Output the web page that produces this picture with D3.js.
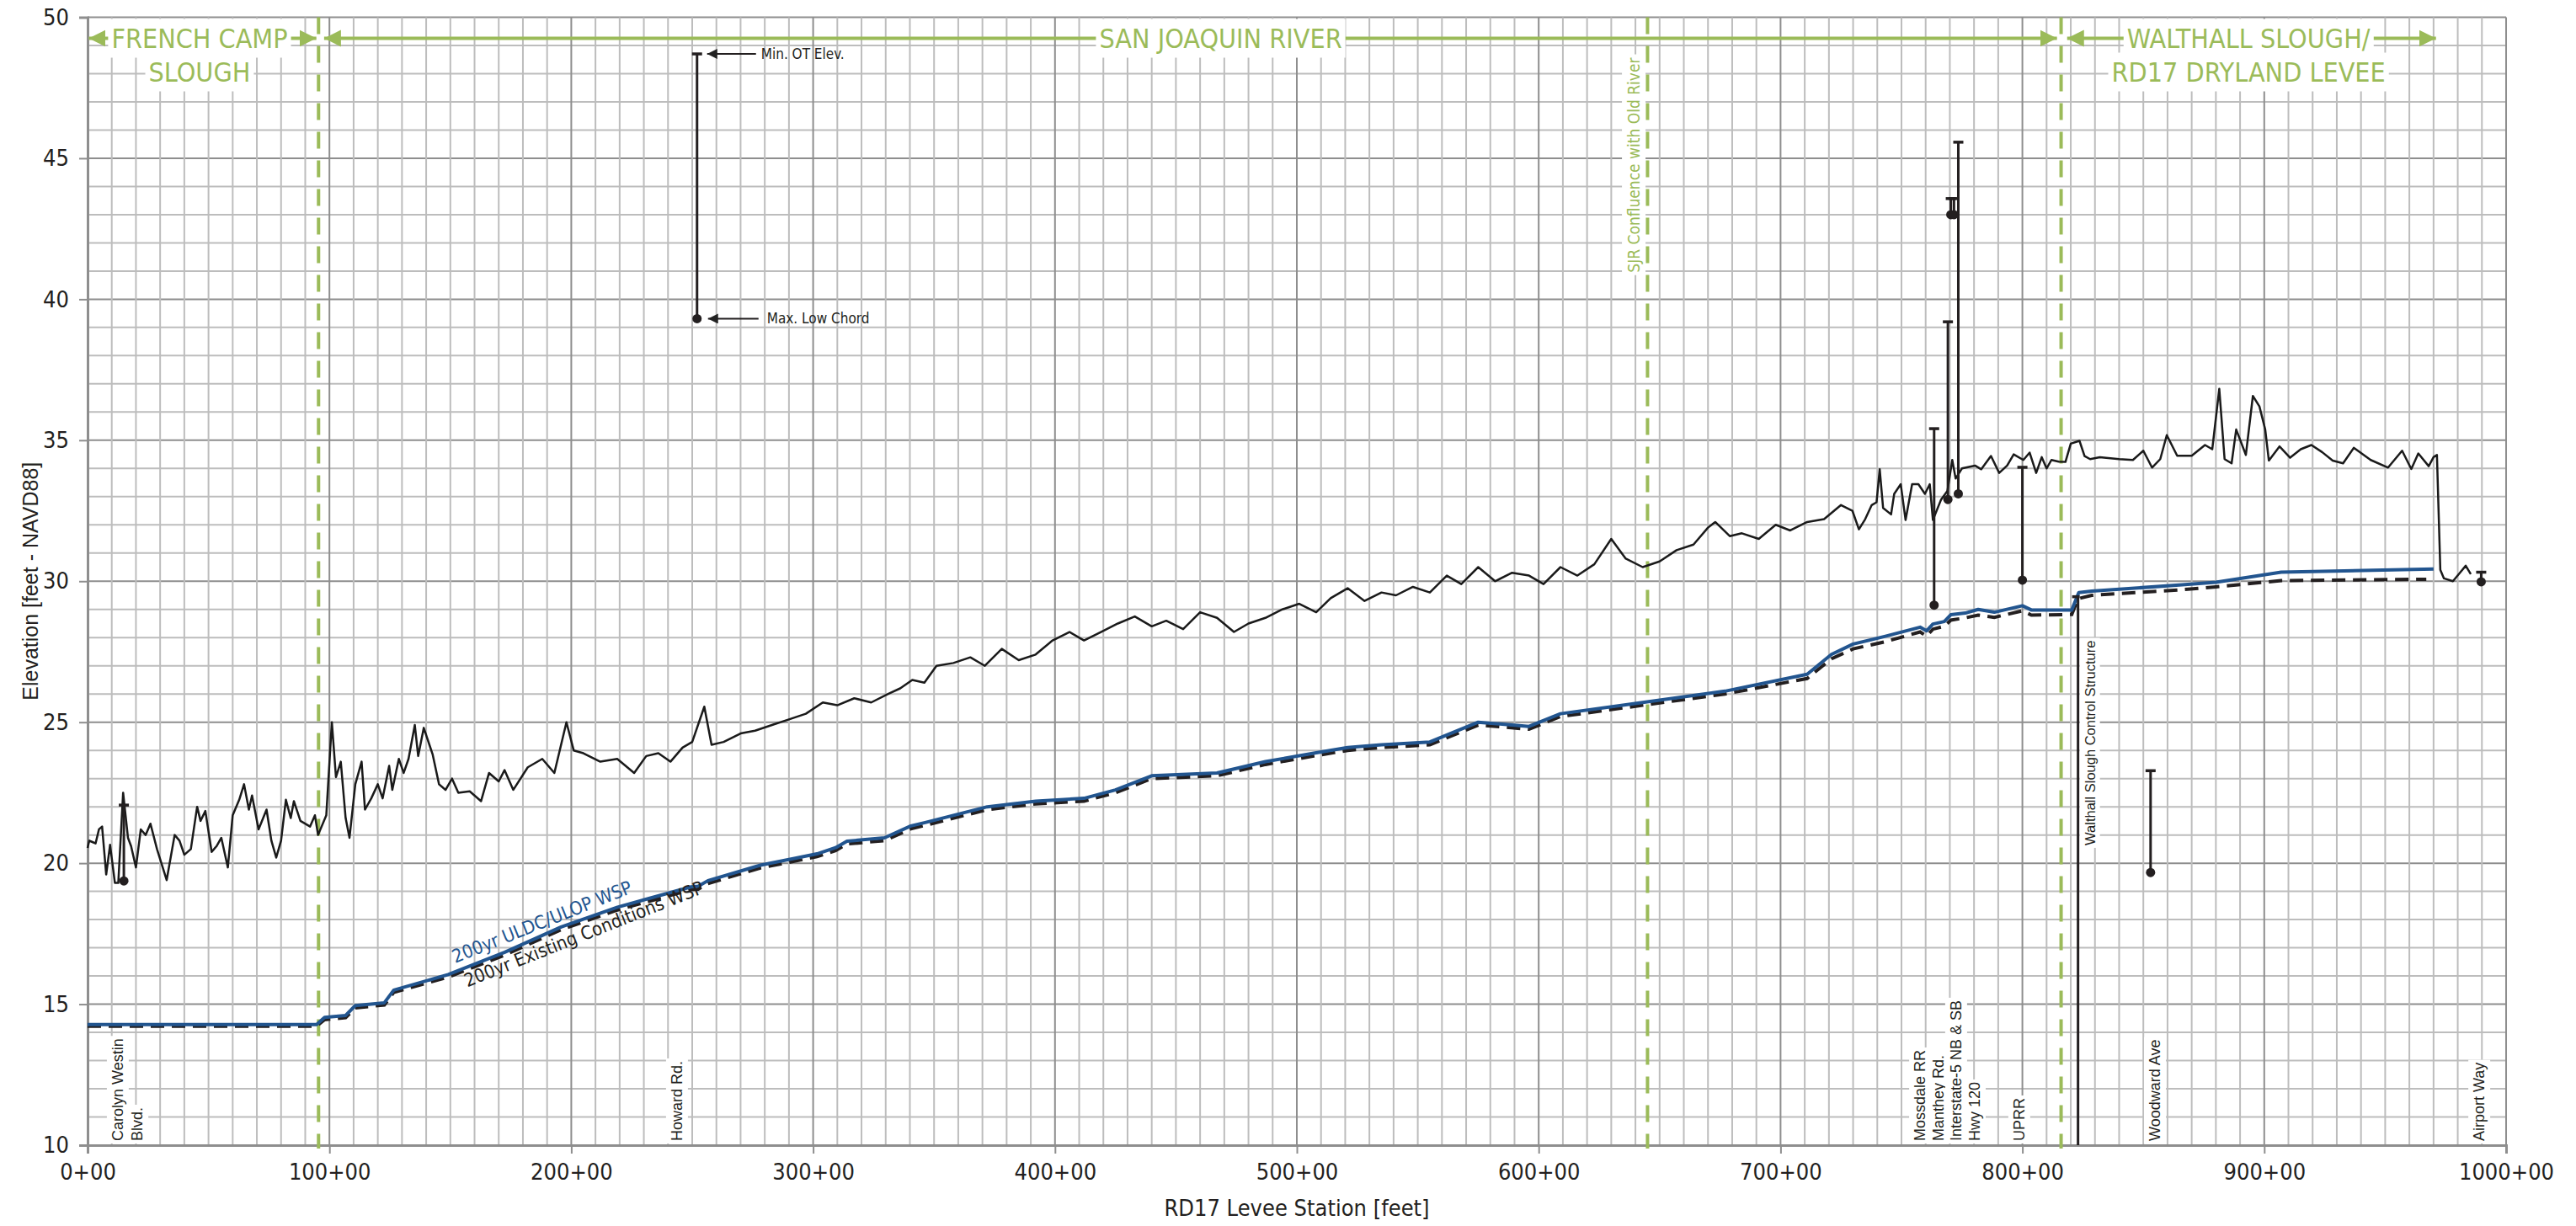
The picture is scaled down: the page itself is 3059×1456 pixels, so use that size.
<!DOCTYPE html>
<html>
<head>
<meta charset="utf-8">
<script src="https://cdn.jsdelivr.net/npm/d3@7/dist/d3.min.js"></script>
<style>
  body { margin: 0; background: #fff; }
  svg { display: block; }
</style>
</head>
<body>
<div id="chart"></div>
<script>
// ---- data (stations in 100 ft, elevations in ft NAVD88) ----
const yTicks = [10, 15, 20, 25, 30, 35, 40, 45, 50];
const xTicks = [0, 100, 200, 300, 400, 500, 600, 700, 800, 900, 1000];

// levee crest profile
const profile = [
  [0,20.54],[0.7,20.8],[2,20.75],[3.3,20.7],[4.7,21.2],[6,21.3],[7.7,19.6],[9.3,20.65],[11.3,19.3],[12.7,19.3],
  [14.7,22.5],[16.7,20.9],[18,20.6],[20,19.85],[22,21.2],[24,21.0],[26,21.4],[28.7,20.5],[32.7,19.4],[36,21.0],
  [38,20.8],[40,20.3],[42.7,20.5],[45.3,22.0],[46.7,21.5],[48.7,21.85],[51.3,20.4],[53.3,20.6],[55.3,20.9],[58,19.85],
  [60,21.7],[62.7,22.25],[64.7,22.8],[66.7,21.9],[68,22.4],[70.7,21.2],[74,21.9],[76,20.8],[78,20.2],[80,20.8],
  [82,22.25],[84,21.6],[85.3,22.2],[88,21.5],[92,21.3],[94,21.7],[95.3,21.0],[98.7,21.7],[101,25.0],[102.7,23.05],
  [104.7,23.6],[106.7,21.6],[108.3,20.9],[110.7,22.8],[113.3,23.6],[114.7,21.9],[117.3,22.3],[120,22.8],[122,22.3],[124.7,23.45],
  [126,22.6],[128.7,23.7],[130.7,23.2],[132.7,23.7],[135.3,24.9],[136.7,23.8],[139,24.8],[142.7,23.85],[145.3,22.8],[148,22.6],
  [150.7,23.0],[153.3,22.5],[158,22.55],[162.7,22.2],[166,23.2],[170,22.9],[172.4,23.3],
  [176,22.6],[182,23.4],[188,23.7],[193,23.2],[198,25.0],[201,24.0],[205,23.9],[212,23.6],[219,23.7],[226,23.2],
  [231,23.8],[236,23.9],[241,23.6],[246,24.1],[250,24.3],[255,25.55],[258,24.2],[263,24.3],[270,24.6],[276,24.7],
  [283,24.9],[290,25.1],[297,25.3],[304,25.7],[310,25.6],[317,25.85],[324,25.7],[331,26.0],[336,26.2],[341,26.5],
  [346,26.4],[351,27.0],[358,27.1],[365,27.3],[371,27.0],[378,27.6],[385,27.2],[392,27.4],[399,27.9],[406,28.2],
  [412,27.9],[419,28.2],[426,28.5],[433,28.75],[440,28.4],[446,28.6],[453,28.3],[460,28.9],[467,28.7],[474,28.2],
  [480,28.5],[487,28.7],[494,29.0],[501,29.2],[508,28.9],[514,29.4],[521,29.75],[528,29.3],[535,29.6],[541,29.5],
  [548,29.8],[555,29.6],[562,30.2],[568,29.9],[575,30.5],[582,30.0],[589,30.3],[596,30.2],[602,29.9],[609,30.5],
  [616,30.2],[623,30.6],[630,31.5],[636,30.8],[643,30.5],[650,30.7],[657,31.1],[664,31.3],[670,31.9],[673,32.1],
  [679,31.6],[684,31.7],[691,31.5],[698,32.0],[704,31.8],[711,32.1],[718,32.2],[725,32.7],[729.7,32.5],
  [732.4,31.84],[735,32.2],[737.7,32.7],[739.7,32.8],[741,33.97],[742.4,32.6],[745.7,32.37],[747,33.1],[749.7,33.44],[751.7,32.17],
  [754.4,33.44],[757,33.44],[759.7,33.1],[761.7,33.44],[763,32.17],[766.4,32.9],[769,33.2],[771,34.3],[772.4,33.64],[775,34.0],
  [780.4,34.1],[783,33.97],[787,34.44],[790.4,33.84],[793.7,34.1],[796.4,34.5],[800.4,34.3],[803,34.56],[805.7,33.84],[808,34.4],
  [810,34.0],[812,34.3],[815,34.24],[817.8,34.23],[820,34.88],[823.6,34.98],[825.7,34.44],[828,34.33],[832,34.4],[840,34.33],
  [845.7,34.3],[850,34.63],[853.6,34.03],[857,34.33],[859.7,35.18],[864,34.45],[870,34.45],[875.5,34.83],[878.5,34.68],[881.4,36.82],
  [883.6,34.33],[886.5,34.18],[888.4,35.38],[892.4,34.48],[895.3,36.57],[898,36.2],[900.4,35.38],[901.9,34.28],[906.3,34.78],[910.7,34.38],
  [915.1,34.68],[919.5,34.83],[923.9,34.58],[928.3,34.28],[932.6,34.18],[937,34.73],[944,34.3],[951.2,34.03],[957,34.63],[960.8,33.98],
  [963.7,34.53],[968,34.08],[970,34.4],[971.4,34.48],[972.8,30.4],[974.3,30.1],[978,30.0],[980.9,30.3],[983.3,30.55],[985.4,30.25]
];

// 200yr ULDC/ULOP water surface profile
const wspProject = [
  [0,14.28],[94.7,14.28],[98,14.53],[106.7,14.6],[110.7,14.95],[122.7,15.05],[126.6,15.5],[149.1,16.05],[172.5,16.84],[195.8,17.74],
  [219.1,18.44],[249.5,19.16],[252.5,19.18],[256.5,19.38],[278.2,19.93],[301.6,20.33],[309.3,20.55],[314,20.78],[329.5,20.9],[340.4,21.32],
  [346.3,21.44],[372,22.0],[392,22.2],[412,22.3],[425,22.6],[440,23.1],[467,23.2],[487,23.6],[507,23.9],[521,24.1],
  [535,24.2],[555,24.3],[575,25.0],[596,24.85],[609,25.3],[643,25.7],[677,26.1],[711,26.7],[721,27.4],[730,27.77],
  [743,28.04],[757.7,28.37],[760.4,28.24],[763,28.48],[767.7,28.57],[770.4,28.81],[776.4,28.87],[781.7,29.0],[788.4,28.9],[800,29.13],
  [803.7,28.98],[820.4,28.98],[823.3,29.6],[828.7,29.65],[866,29.87],[880,29.96],[907,30.32],[970,30.43]
];

// 200yr existing conditions water surface profile
const wspExisting = [
  [0,14.22],[94.7,14.22],[98,14.45],[106.7,14.52],[110.7,14.87],[122.7,14.97],[126.6,15.42],[149.1,15.96],[172.5,16.74],[195.8,17.64],
  [219.1,18.34],[249.5,19.06],[252.5,19.08],[256.5,19.28],[278.2,19.83],[301.6,20.23],[309.3,20.45],[314,20.68],[329.5,20.8],[340.4,21.22],
  [346.3,21.34],[372,21.9],[392,22.1],[412,22.2],[425,22.5],[440,23.0],[467,23.1],[487,23.5],[507,23.8],[521,24.0],
  [535,24.1],[555,24.2],[575,24.9],[596,24.75],[609,25.2],[643,25.6],[677,26.0],[711,26.55],[721,27.25],[730,27.6],
  [743,27.85],[757.7,28.2],[760.4,28.05],[763,28.3],[767.7,28.4],[770.4,28.62],[776.4,28.7],[781.7,28.8],[788.4,28.72],[800,28.95],
  [803.7,28.8],[820.4,28.82],[823,29.38],[828.7,29.5],[866,29.7],[880,29.8],[907,30.02],[967,30.07]
];

// bridges: station, min. OT elevation (cap), max. low chord (dot)
const bridgeStation = [15, 252, 763.5, 769.2, 770.4, 771.7, 773.5, 800, 853, 989.7];
const bridgeMinOT   = [22.06, 48.7, 35.41, 39.2, 43.57, 43.57, 45.57, 34.04, 23.28, 30.32];
const bridgeLowChord = [19.37, 39.31, 29.15, 32.9, 43.0, 43.0, 33.1, 30.04, 19.67, 29.98];

// control structure
const structureStation = 823;
const structureTop = 29.45;

// crossing labels along the bottom
const crossingNames = ["Carolyn Westin", "Blvd.", "Howard Rd.", "Mossdale RR", "Manthey Rd.", "Interstate-5 NB & SB", "Hwy 120", "UPRR", "Woodward Ave", "Airport Way"];
const crossingStation = [12.5, 20.6, 243.7, 757.7, 765.3, 772.6, 780.3, 798.7, 854.8, 988.9];

// reach boundaries and reach names
const boundaryStation = [95.5, 645, 816];
const reachNames = [["FRENCH CAMP", "SLOUGH"], ["SAN JOAQUIN RIVER"], ["WALTHALL SLOUGH/", "RD17 DRYLAND LEVEE"]];
const reachCenter = [46.3, 468.5, 893.5];
const reachArrowFrom = [0.5, 97.8, 818.5];
const reachArrowTo = [94.6, 814.3, 971];

// ---- chart ----
const W = 3059, H = 1456;
const margin = {top: 20.5, right: 83, bottom: 96, left: 104};
const width = W - margin.left - margin.right;
const height = H - margin.top - margin.bottom;

const green = "#9bbb59";
const blue = "#22558f";
const narrow = "'Liberation Sans Narrow', 'DejaVu Sans Condensed', 'Roboto Condensed', sans-serif";

const svg = d3.select("#chart").append("svg")
  .attr("width", W).attr("height", H);

const defs = svg.append("defs");
function arrowMarker(id, color, w, h) {
  defs.append("marker")
    .attr("id", id)
    .attr("markerUnits", "userSpaceOnUse")
    .attr("viewBox", "0 0 10 10")
    .attr("refX", 10).attr("refY", 5)
    .attr("markerWidth", w).attr("markerHeight", h)
    .attr("orient", "auto-start-reverse")
    .append("path").attr("d", "M0,0L10,5L0,10Z").attr("fill", color);
}
arrowMarker("garrow", green, 20, 26);
arrowMarker("karrow", "#222", 14, 12);

const g = svg.append("g")
  .attr("transform", "translate(" + margin.left + "," + margin.top + ")");

const x = d3.scaleLinear().domain([0, 1000]).range([0, width]);
const y = d3.scaleLinear().domain([10, 50]).range([height, 0]);

// grid
const grid = g.append("g");
grid.selectAll("line.h").data(d3.range(10, 51, 1)).join("line")
  .attr("x1", 0).attr("x2", width)
  .attr("y1", d => y(d)).attr("y2", d => y(d))
  .attr("stroke", d => d % 5 === 0 ? "#8e8e8e" : "#bdbdbd")
  .attr("stroke-width", 2);
grid.selectAll("line.v").data(d3.range(0, 1001, 10)).join("line")
  .attr("y1", 0).attr("y2", height)
  .attr("x1", d => x(d)).attr("x2", d => x(d))
  .attr("stroke", d => d % 100 === 0 ? "#8e8e8e" : "#bdbdbd")
  .attr("stroke-width", 2);

// axes
const xAxis = g.append("g")
  .attr("transform", "translate(0," + height + ")")
  .call(d3.axisBottom(x).tickValues(xTicks).tickFormat(d => d + "+00").tickSize(10).tickPadding(12));
const yAxis = g.append("g")
  .call(d3.axisLeft(y).tickValues(yTicks).tickSize(10).tickPadding(12));
[xAxis, yAxis].forEach(a => {
  a.select(".domain").attr("stroke", "#8e8e8e").attr("stroke-width", 3);
  a.selectAll(".tick line").attr("stroke", "#8e8e8e").attr("stroke-width", 2);
  a.selectAll(".tick text").attr("font-family", narrow).attr("font-size", 27).attr("fill", "#231f20");
});

svg.append("text")
  .attr("x", margin.left + width / 2).attr("y", 1444)
  .attr("text-anchor", "middle")
  .attr("font-family", narrow).attr("font-size", 27).attr("fill", "#231f20")
  .text("RD17 Levee Station [feet]");
svg.append("text")
  .attr("transform", "translate(36," + (margin.top + height / 2) + ") rotate(-90)")
  .attr("text-anchor", "middle").attr("dominant-baseline", "central")
  .attr("font-family", "'Liberation Sans', sans-serif").attr("font-size", 25).attr("fill", "#231f20")
  .text("Elevation [feet - NAVD88]");

// helper: white box behind a text element
function backBox(textSel, pad) {
  const bb = textSel.node().getBBox();
  d3.select(textSel.node().parentNode).insert("rect", function() { return textSel.node(); })
    .attr("x", bb.x - pad).attr("y", bb.y - pad)
    .attr("width", bb.width + 2 * pad).attr("height", bb.height + 2 * pad)
    .attr("fill", "#fff");
}

// reach boundaries
g.selectAll("line.boundary").data(boundaryStation).join("line")
  .attr("x1", d => x(d)).attr("x2", d => x(d))
  .attr("y1", 0).attr("y2", height + 4)
  .attr("stroke", green).attr("stroke-width", 4)
  .attr("stroke-dasharray", "20,14");

// reach arrows and names
const arrowY = 25;
reachNames.forEach((lines, i) => {
  g.append("line")
    .attr("x1", x(reachArrowFrom[i])).attr("x2", x(reachArrowTo[i]))
    .attr("y1", arrowY).attr("y2", arrowY)
    .attr("stroke", green).attr("stroke-width", 4)
    .attr("marker-start", "url(#garrow)").attr("marker-end", "url(#garrow)");
  const grp = g.append("g");
  lines.forEach((s, j) => {
    const t = grp.append("text")
      .attr("x", x(reachCenter[i])).attr("y", arrowY + j * 40)
      .attr("text-anchor", "middle").attr("dominant-baseline", "central")
      .attr("font-family", narrow).attr("font-size", 32).attr("fill", green)
      .text(s);
    backBox(t, 4);
  });
});

// confluence marker label
{
  const grp = g.append("g")
    .attr("transform", "translate(" + x(639.3) + "," + 48 + ") rotate(-90)");
  const t = grp.append("text")
    .attr("text-anchor", "end").attr("dominant-baseline", "central")
    .attr("font-family", narrow).attr("font-size", 19).attr("fill", green)
    .text("SJR Confluence with Old River");
  backBox(t, 3);
}

// crossing labels
crossingNames.forEach((s, i) => {
  const grp = g.append("g")
    .attr("transform", "translate(" + x(crossingStation[i]) + "," + (height - 5) + ") rotate(-90)");
  const t = grp.append("text")
    .attr("dominant-baseline", "central")
    .attr("font-family", "'Liberation Sans', Arial, sans-serif").attr("font-size", 18).attr("fill", "#231f20")
    .text(s);
  backBox(t, 3);
});
{
  const grp = g.append("g")
    .attr("transform", "translate(" + (x(structureStation) + 14) + "," + (y(27.9)) + ") rotate(-90)");
  const t = grp.append("text")
    .attr("text-anchor", "end").attr("dominant-baseline", "central")
    .attr("font-family", "'Liberation Sans', Arial, sans-serif").attr("font-size", 16.5).attr("fill", "#231f20")
    .text("Walthall Slough Control Structure");
  backBox(t, 3);
}

// water surface profiles
const line = d3.line().x(d => x(d[0])).y(d => y(d[1]));
g.append("path").datum(wspExisting)
  .attr("d", line).attr("fill", "none")
  .attr("stroke", "#231f20").attr("stroke-width", 4).attr("stroke-dasharray", "16,9");
g.append("path").datum(wspProject)
  .attr("d", line).attr("fill", "none")
  .attr("stroke", blue).attr("stroke-width", 4).attr("stroke-linejoin", "round");

// levee crest
g.append("path").datum(profile)
  .attr("d", line).attr("fill", "none")
  .attr("stroke", "#1a1a1a").attr("stroke-width", 2.5).attr("stroke-linejoin", "round");

// WSP labels
const slope = -21.7;
g.append("text")
  .attr("transform", "translate(" + x(152) + "," + (y(16.45)) + ") rotate(" + slope + ")")
  .attr("font-family", narrow).attr("font-size", 22).attr("fill", blue)
  .text("200yr ULDC/ULOP WSP");
g.append("text")
  .attr("transform", "translate(" + x(157) + "," + (y(15.6)) + ") rotate(" + slope + ")")
  .attr("font-family", narrow).attr("font-size", 22).attr("fill", "#231f20")
  .text("200yr Existing Conditions WSP");

// bridges
const br = g.append("g");
bridgeStation.forEach((s, i) => {
  br.append("line")
    .attr("x1", x(s)).attr("x2", x(s))
    .attr("y1", y(bridgeMinOT[i])).attr("y2", y(bridgeLowChord[i]))
    .attr("stroke", "#231f20").attr("stroke-width", 3);
  br.append("line")
    .attr("x1", x(s) - 6).attr("x2", x(s) + 6)
    .attr("y1", y(bridgeMinOT[i])).attr("y2", y(bridgeMinOT[i]))
    .attr("stroke", "#231f20").attr("stroke-width", 3.5);
  br.append("circle")
    .attr("cx", x(s)).attr("cy", y(bridgeLowChord[i])).attr("r", 5.5)
    .attr("fill", "#231f20");
});
br.append("line")
  .attr("x1", x(structureStation)).attr("x2", x(structureStation))
  .attr("y1", y(structureTop)).attr("y2", height)
  .attr("stroke", "#231f20").attr("stroke-width", 3);
br.append("line")
  .attr("x1", x(structureStation) - 7).attr("x2", x(structureStation) + 2)
  .attr("y1", y(structureTop)).attr("y2", y(structureTop))
  .attr("stroke", "#231f20").attr("stroke-width", 3.5);

// call-outs on Howard Rd. bridge
const hx = x(bridgeStation[1]);
[[bridgeMinOT[1], "Min. OT Elev.", 12, 70, 76], [bridgeLowChord[1], "Max. Low Chord", 13, 73, 83]].forEach(c => {
  g.append("line")
    .attr("x1", hx + c[3]).attr("x2", hx + c[2])
    .attr("y1", y(c[0])).attr("y2", y(c[0]))
    .attr("stroke", "#231f20").attr("stroke-width", 2)
    .attr("marker-end", "url(#karrow)");
  g.append("text")
    .attr("x", hx + c[4]).attr("y", y(c[0]))
    .attr("dominant-baseline", "central")
    .attr("font-family", narrow).attr("font-size", 17).attr("fill", "#231f20")
    .text(c[1]);
});
</script>
</body>
</html>
